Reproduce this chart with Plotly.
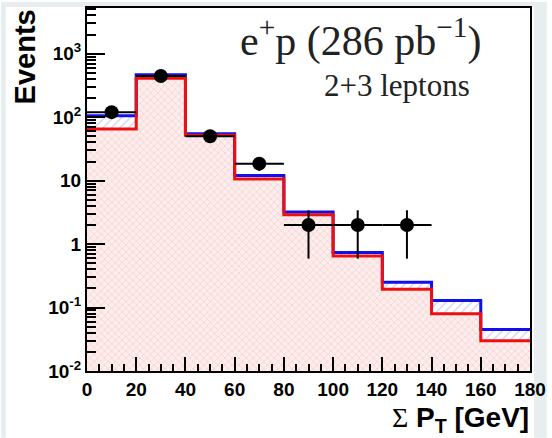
import plotly.graph_objects as go

# ---- data ----
bin_edges = [0, 20, 40, 60, 80, 100, 120, 140, 160, 180]
sm_total = [105, 465, 55, 12, 3.2, 0.74, 0.25, 0.129, 0.045]
sm_red = [65, 410, 52, 10.6, 2.9, 0.65, 0.195, 0.08, 0.03]
data_x = [10, 30, 50, 70, 90, 110, 130]
data_y = [120, 445, 50, 18.5, 2, 2, 2]
data_err = [11, 21, 7, 4.3, 1.41, 1.41, 1.41]
ytick_vals = [0.01, 0.1, 1, 10, 100, 1000]
ytick_text = ["10<sup>-2</sup>", "10<sup>-1</sup>", "1", "10", "10<sup>2</sup>", "10<sup>3</sup>"]
xtick_vals = [0, 20, 40, 60, 80, 100, 120, 140, 160, 180]

W, H = 552, 438
L, R, T, B = 87, 535, 6, 371


def px(xp):
    return (xp - L) / (R - L)


def py(yp):
    return (B - yp) / (B - T)


def steps(vals):
    return list(vals) + [vals[-1]]


fig = go.Figure()
base = [1e-5] * len(bin_edges)
fig.add_trace(go.Scatter(x=bin_edges, y=base, mode="lines", line=dict(width=0, shape="hv"),
                         showlegend=False, hoverinfo="skip"))
fig.add_trace(go.Scatter(x=bin_edges, y=steps(sm_red), mode="lines",
                         line=dict(width=0, shape="hv", color="red"), fill="tonexty",
                         fillcolor="rgba(0,0,0,0)",
                         fillpattern=dict(shape="x", fgcolor="#f5a8a8", bgcolor="#fdeeee",
                                          size=5, solidity=0.25),
                         showlegend=False))
fig.add_trace(go.Scatter(x=bin_edges, y=steps(sm_total), mode="lines",
                         line=dict(width=3, shape="hv", color="#1010ee"), fill="tonexty",
                         fillpattern=dict(shape="/", fgcolor="#9a9af5", bgcolor="white",
                                          size=6, solidity=0.2),
                         showlegend=False))
fig.add_trace(go.Scatter(x=bin_edges, y=steps(sm_red), mode="lines",
                         line=dict(width=3, shape="hv", color="#ee1010"),
                         showlegend=False))
fig.add_trace(go.Scatter(x=data_x, y=data_y, mode="markers",
                         marker=dict(size=14, color="black"),
                         error_y=dict(type="data", array=data_err, color="black", thickness=2, width=0),
                         error_x=dict(type="constant", value=10, color="black", thickness=2, width=0),
                         showlegend=False))

fig.update_layout(
    width=W, height=H,
    margin=dict(l=L, r=W - R, t=T, b=H - B),
    paper_bgcolor="white", plot_bgcolor="white",
    font=dict(family="Liberation Sans, Arial", color="black"),
    xaxis=dict(range=[0, 180], tickvals=xtick_vals, ticks="inside", ticklen=14, tickwidth=2,
               tickcolor="black", showline=True, linecolor="black", linewidth=2, mirror=True,
               showgrid=False, zeroline=False,
               tickfont=dict(size=19, family="Liberation Sans, Arial", weight="bold"),
               minor=dict(ticks="inside", ticklen=7, tickwidth=2, tickcolor="black", dtick=5)),
    yaxis=dict(type="log", range=[-2, 3.72], tickvals=ytick_vals, ticktext=ytick_text,
               ticks="inside", ticklen=18, tickwidth=2, tickcolor="black",
               showline=True, linecolor="black", linewidth=2, mirror=True,
               showgrid=False, zeroline=False,
               tickfont=dict(size=19, family="Liberation Sans, Arial", weight="bold"),
               minor=dict(ticks="inside", ticklen=9, tickwidth=2, tickcolor="black",
                          tickvals=[m * 10 ** e for e in range(-2, 4) for m in range(2, 10)])),
    shapes=[
        dict(type="rect", xref="paper", yref="paper", x0=px(0), x1=px(5), y0=py(438), y1=py(0),
             fillcolor="#e8eef0", line=dict(width=0), layer="below"),
        dict(type="rect", xref="paper", yref="paper", x0=px(0), x1=px(552), y0=py(5), y1=py(0),
             fillcolor="#e8eef0", line=dict(width=0), layer="below"),
        dict(type="rect", xref="paper", yref="paper", x0=px(539), x1=px(552), y0=py(438), y1=py(0),
             fillcolor="#e8eef0", line=dict(width=0), layer="below"),
    ],
    annotations=[
        dict(text="e<sup>+</sup>p (286 pb<sup>\u22121</sup>)", xref="paper", yref="paper",
             x=px(364), y=py(36), xanchor="center", yanchor="middle", showarrow=False,
             font=dict(family="Liberation Serif, DejaVu Serif", size=42, color="#222")),
        dict(text="2+3 leptons", xref="paper", yref="paper",
             x=px(400), y=py(84), xanchor="center", yanchor="middle", showarrow=False,
             font=dict(family="Liberation Serif, DejaVu Serif", size=31, color="#222")),
        dict(text="Events", xref="paper", yref="paper", textangle=-90,
             x=px(24), y=py(55), xanchor="center", yanchor="middle", showarrow=False,
             font=dict(family="Liberation Sans, Arial", size=29, weight="bold")),
        dict(text="<span style='font-family:Liberation Serif;font-weight:normal'>\u03a3</span> P<sub>T</sub> [GeV]",
             xref="paper", yref="paper",
             x=px(536), y=py(420), xanchor="right", yanchor="middle", showarrow=False,
             font=dict(family="Liberation Sans, Arial", size=28, weight="bold")),
    ],
)

fig.write_html("out.html", post_script="document.body.style.margin='0';",
               config={"displayModeBar": False})
